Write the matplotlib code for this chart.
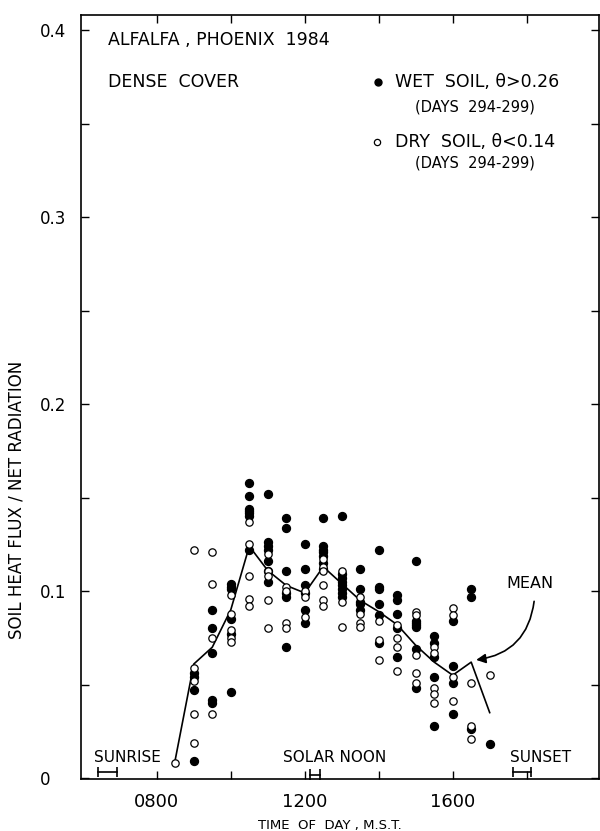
import matplotlib
matplotlib.use("Agg")
import matplotlib.pyplot as plt
from matplotlib.transforms import ScaledTranslation

# half-hour observation slots (hours, M.S.T.)
slot_hours = [8.5, 9.0, 9.5, 10.0, 10.5, 11.0, 11.5, 12.0, 12.5,
              13.0, 13.5, 14.0, 14.5, 15.0, 15.5, 16.0, 16.5, 17.0]

# soil heat flux / net radiation, wet soil (days 294-299)
wet_ratio = [
    [],
    [0.056, 0.054, 0.047, 0.009],
    [0.090, 0.080, 0.067, 0.042, 0.040],
    [0.104, 0.102, 0.101, 0.085, 0.077, 0.046],
    [0.158, 0.151, 0.144, 0.143, 0.142, 0.140, 0.122],
    [0.152, 0.126, 0.124, 0.122, 0.116, 0.111, 0.105],
    [0.139, 0.134, 0.111, 0.099, 0.097, 0.070],
    [0.125, 0.112, 0.103, 0.099, 0.090, 0.083],
    [0.139, 0.124, 0.122, 0.121, 0.119, 0.115, 0.112],
    [0.140, 0.109, 0.107, 0.105, 0.103, 0.101, 0.099, 0.097],
    [0.112, 0.101, 0.094, 0.093, 0.090],
    [0.122, 0.102, 0.101, 0.093, 0.087, 0.072],
    [0.098, 0.095, 0.088, 0.080, 0.065],
    [0.116, 0.084, 0.083, 0.082, 0.081, 0.069, 0.048],
    [0.076, 0.072, 0.065, 0.054, 0.028],
    [0.084, 0.060, 0.051, 0.034],
    [0.101, 0.097, 0.026],
    [0.018],
]

# dry soil (days 294-299)
dry_ratio = [
    [0.008],
    [0.122, 0.059, 0.052, 0.034, 0.019],
    [0.121, 0.104, 0.075, 0.034],
    [0.098, 0.088, 0.079, 0.075, 0.073],
    [0.137, 0.125, 0.108, 0.096, 0.092],
    [0.120, 0.111, 0.108, 0.095, 0.080],
    [0.102, 0.100, 0.083, 0.080],
    [0.100, 0.097, 0.086],
    [0.117, 0.113, 0.111, 0.103, 0.095, 0.092],
    [0.111, 0.094, 0.081],
    [0.097, 0.088, 0.083, 0.081],
    [0.084, 0.074, 0.063],
    [0.082, 0.075, 0.070, 0.057],
    [0.089, 0.087, 0.066, 0.056, 0.051],
    [0.070, 0.067, 0.048, 0.045, 0.040],
    [0.091, 0.087, 0.054, 0.041],
    [0.051, 0.028, 0.021],
    [0.055],
]

# mean curve
mean_ratio = [0.010, 0.061, 0.070, 0.090, 0.124, 0.111, 0.103, 0.099, 0.113,
              0.104, 0.095, 0.089, 0.082, 0.071, 0.062, 0.055, 0.062, 0.035]

xtick_hours = [8, 10, 12, 14, 16, 18]
xtick_labels = ["0800", "", "1200", "", "1600", ""]
ytick_vals = [0, 0.1, 0.2, 0.3, 0.4]
ytick_labels = ["0", "0.1", "0.2", "0.3", "0.4"]

wet_t = [h for h, vals in zip(slot_hours, wet_ratio) for _ in vals]
wet_v = [v for vals in wet_ratio for v in vals]
dry_t = [h for h, vals in zip(slot_hours, dry_ratio) for _ in vals]
dry_v = [v for vals in dry_ratio for v in vals]

plt.rcParams['font.family'] = ['DejaVu Sans']

fig = plt.figure(figsize=(6, 8.31), dpi=100)
ax = fig.add_axes([0.135, 0.0626, 0.863, 0.919])

ax.plot(slot_hours, mean_ratio, color='black', lw=1.2, zorder=2)
ax.plot(wet_t, wet_v, 'o', color='black', ms=5.7, zorder=3)
ax.plot(dry_t, dry_v, 'o', mfc='white', mec='black', mew=0.9, ms=5.3, zorder=4)

ax.set_xlim(5.95, 19.95)
ax.set_ylim(-0.0005, 0.408)
ax.set_xticks(xtick_hours)
ax.set_xticklabels(xtick_labels, fontsize=13)
ax.set_yticks(ytick_vals)
ax.set_yticklabels(ytick_labels, fontsize=12)
ax.set_yticks([0.05, 0.15, 0.25, 0.35], minor=True)
for lab in ax.get_yticklabels():
    lab.set_ha('left')
# the top label sits a little above its tick in the original
top_lab = ax.get_yticklabels()[-1]
top_lab.set_transform(top_lab.get_transform()
                      + ScaledTranslation(0, 0.09, fig.dpi_scale_trans))
ax.tick_params(axis='y', which='both', direction='in', left=True, right=True,
               length=6, width=1, pad=29.5)
ax.tick_params(axis='x', direction='in', top=True, bottom=True,
               length=6, width=1, pad=10)
for s in ax.spines.values():
    s.set_linewidth(1.2)

# annotations
ax.text(0.052, 0.967, "ALFALFA , PHOENIX  1984", transform=ax.transAxes,
        fontsize=12.5, va='center', ha='left')
ax.text(0.052, 0.912, "DENSE  COVER", transform=ax.transAxes,
        fontsize=12.5, va='center', ha='left')
ax.plot([0.573], [0.912], 'o', color='black', ms=5, transform=ax.transAxes)
ax.text(0.606, 0.912, "WET  SOIL, θ>0.26", transform=ax.transAxes,
        fontsize=12.5, va='center', ha='left')
ax.text(0.645, 0.880, "(DAYS  294-299)", transform=ax.transAxes,
        fontsize=10.5, va='center', ha='left')
ax.plot([0.571], [0.834], 'o', mfc='white', mec='black', mew=0.9, ms=4.5,
        transform=ax.transAxes)
ax.text(0.606, 0.834, "DRY  SOIL, θ<0.14", transform=ax.transAxes,
        fontsize=12.5, va='center', ha='left')
ax.text(0.645, 0.806, "(DAYS  294-299)", transform=ax.transAxes,
        fontsize=10.5, va='center', ha='left')

ax.text(6.29, 0.0112, "SUNRISE", fontsize=11, va='center', ha='left')
ax.plot([6.42, 6.93], [0.0032, 0.0032], color='black', lw=1.2,
        marker='|', ms=7, mew=1.2)
ax.text(11.41, 0.0112, "SOLAR NOON", fontsize=11, va='center', ha='left')
ax.plot([12.14, 12.41], [0.0016, 0.0016], color='black', lw=1.2,
        marker='|', ms=9, mew=1.2)
ax.text(17.54, 0.0112, "SUNSET", fontsize=11, va='center', ha='left')
ax.plot([17.62, 18.13], [0.0032, 0.0032], color='black', lw=1.2,
        marker='|', ms=7, mew=1.2)

ax.text(18.08, 0.104, "MEAN", fontsize=11.5, va='center', ha='center')
ax.annotate("", xy=(16.56, 0.063), xytext=(18.21, 0.096),
            arrowprops=dict(arrowstyle='-|>', color='black', lw=1.2,
                            mutation_scale=14,
                            connectionstyle='arc3,rad=-0.4'))

fig.text(17 / 600, 1 - 500 / 831, "SOIL HEAT FLUX / NET RADIATION",
         rotation=90, fontsize=12, ha='center', va='center')
fig.text(330 / 600, 1 - 825 / 831, "TIME  OF  DAY , M.S.T.",
         fontsize=9.5, ha='center', va='center')

fig.savefig("out.png", dpi=100)
